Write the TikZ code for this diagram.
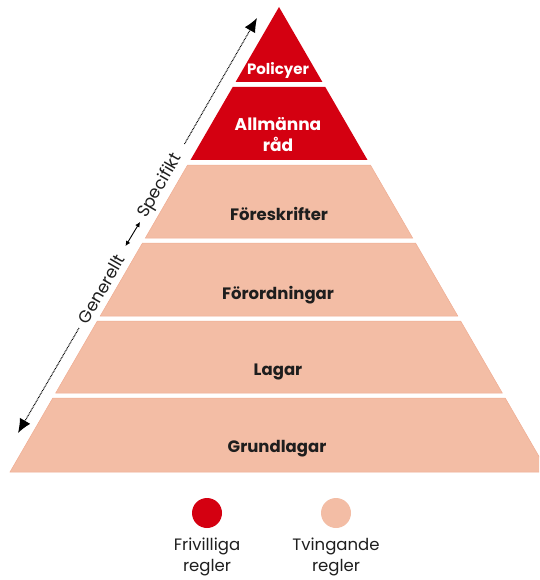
\documentclass[tikz,border=0pt]{standalone}
\usepackage{fontspec}
\setmainfont{Poppins}
\usetikzlibrary{arrows.meta}
\definecolor{pyrred}{HTML}{D40011}
\definecolor{pyrbeige}{HTML}{F3BDA5}
\definecolor{pyrbeigeedge}{HTML}{F0AC92}
\definecolor{txtdark}{HTML}{1E1E1E}
\tikzset{
  redband/.style={fill=pyrred},
  beigeband/.style={fill=pyrbeige, draw=pyrbeigeedge, line width=0.5pt},
  bandlabel/.style={font=\bfseries\fontsize{16.5}{19}\selectfont, text=txtdark, align=center},
  redlabel/.style={font=\bfseries\fontsize{15}{17}\selectfont, text=white, align=center},
  axislabel/.style={font=\fontsize{17}{19}\selectfont, text=txtdark, rotate=60, inner sep=1pt},
  legendlabel/.style={font=\fontsize{16.5}{21}\selectfont, text=txtdark, align=center},
  dotline/.style={line width=1.1pt, dash pattern=on 0.8pt off 0.8pt},
  bighead/.style={-{Latex[length=14pt,width=12pt]}},
}
\begin{document}
\begin{tikzpicture}[x=1pt,y=-1pt]
\useasboundingbox (0,0) rectangle (539,580);
\begin{scope}
\clip (0,0) rectangle (539,580);
% pyramid bands
\foreach \a/\b/\s in {7/82/redband, 87/160/redband, 165/238/beigeband, 243/316/beigeband, 321/393/beigeband, 398/472/beigeband}{
  \path[\s] ({279-(\a-7)*0.5785},\a) -- ({279+(\a-7)*0.5785},\a) -- ({279+(\b-7)*0.5785},\b) -- ({279-(\b-7)*0.5785},\b) -- cycle;
}
\end{scope}
% labels
\node[redlabel] (pol) at (278,70) {Policyer};
\node[redlabel, font=\bfseries\fontsize{17}{21}\selectfont] (allm) at (278,135) {Allmänna\\råd};
\node[bandlabel] (fores) at (279,214) {Föreskrifter};
\node[bandlabel] (foror) at (278,295) {Förordningar};
\node[bandlabel] (lagar) at (278,372) {Lagar};
\node[bandlabel] (grund) at (277,449) {Grundlagar};
% axis
\coordinate (toptip) at (257,18);
\coordinate (upstart) at (184.5,144);
\coordinate (dA) at (140,222);
\coordinate (dB) at (125.5,246);
\coordinate (lowstart) at (79,328);
\coordinate (bottip) at (18,433);
\node[axislabel] (spec) at (160.3,186) {Specifikt};
\node[axislabel] (gen) at (101.5,289) {Generellt};
\draw[dotline, bighead] (upstart) -- (toptip);
\draw[dotline, bighead] (lowstart) -- (bottip);
\draw[line width=0.9pt, {Latex[length=5pt,width=5pt]}-{Latex[length=5pt,width=5pt]}] (dB) -- (dA);
% legend
\node[circle, fill=pyrred, minimum size=30pt, inner sep=0] (lred) at (207,513) {};
\node[circle, fill=pyrbeige, minimum size=30pt, inner sep=0] (lbeige) at (336,513) {};
\node[legendlabel, anchor=north] (tred) at ([yshift=-6pt]lred.south) {Frivilliga\\regler};
\node[legendlabel, anchor=north] (tbeige) at ([yshift=-6pt]lbeige.south) {Tvingande\\regler};
\end{tikzpicture}
\end{document}
